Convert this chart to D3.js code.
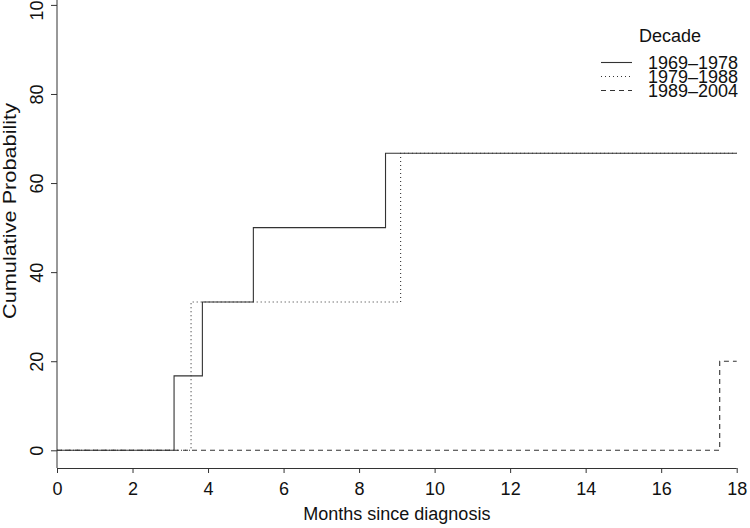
<!DOCTYPE html>
<html>
<head>
<meta charset="utf-8">
<script src="https://cdn.jsdelivr.net/npm/d3@7"></script>
<style>
html,body{margin:0;padding:0;background:#fff;}
svg{display:block;}
text{font-family:"Liberation Sans",Arial,Helvetica,sans-serif;fill:#111;}
</style>
</head>
<body>
<svg id="chart" width="750" height="528"></svg>
<script>
// ---- data ----
const decades = ["1969–1978", "1979–1988", "1989–2004"];
const times1969 = [0, 3.1, 3.85, 5.2, 8.7];
const prob1969  = [0, 16.7, 33.3, 50, 66.7];
const times1979 = [0, 3.55, 9.1];
const prob1979  = [0, 33.3, 66.7];
const times1989 = [0, 17.55];
const prob1989  = [0, 20];
const followUpEnd = 18;
const xTicks = [0, 2, 4, 6, 8, 10, 12, 14, 16, 18];
const yTicks = [0, 20, 40, 60, 80, 100];
const xTitle = "Months since diagnosis";
const yTitle = "Cumulative Probability";
const legendTitle = "Decade";

// ---- layout ----
const svg = d3.select("#chart");
const ink = "#333";
const x = d3.scaleLinear().domain([0, 18]).range([57, 736.7]);
const y = d3.scaleLinear().domain([0, 100]).range([450.3, 4.9]);
const plotBottom = 468;

// spines (bty = "l")
svg.append("line").attr("x1", x(0)).attr("x2", x(0)).attr("y1", 0).attr("y2", plotBottom)
  .attr("stroke", ink).attr("stroke-width", 1);

// x axis
const xAxis = svg.append("g").attr("transform", `translate(0,${plotBottom})`)
  .call(d3.axisBottom(x).tickValues(xTicks).tickSize(5).tickPadding(9).tickFormat(d3.format("d")));
xAxis.select(".domain").attr("d", `M${x(0)},0.5H${x(18)}`).attr("stroke", ink);
xAxis.selectAll(".tick line").attr("stroke", ink);
xAxis.selectAll(".tick text").attr("font-size", 18).attr("fill", "#111")
  .attr("font-family", "Liberation Sans, Arial, sans-serif");

// y axis
const yAxis = svg.append("g").attr("transform", `translate(${x(0)},0)`)
  .call(d3.axisLeft(y).tickValues(yTicks).tickSize(6).tickFormat(d3.format("d")));
yAxis.select(".domain").remove();
yAxis.selectAll(".tick line").attr("stroke", ink);
yAxis.selectAll(".tick text")
  .attr("font-size", 18).attr("fill", "#111")
  .attr("font-family", "Liberation Sans, Arial, sans-serif")
  .attr("x", null).attr("dy", null)
  .attr("text-anchor", "middle")
  .attr("transform", "translate(-14,0) rotate(-90)");

// axis titles
svg.append("text").attr("x", (x(0) + x(18)) / 2).attr("y", 520)
  .attr("text-anchor", "middle").attr("font-size", 18).text(xTitle);
svg.append("text").attr("transform", `translate(16,${211}) rotate(-90)`)
  .attr("text-anchor", "middle").attr("font-size", 19)
  .attr("textLength", 216).attr("lengthAdjust", "spacingAndGlyphs").text(yTitle);

// ---- curves ----
function stepData(times, probs) {
  const pts = times.map((t, i) => [t, probs[i]]);
  pts.push([followUpEnd, probs[probs.length - 1]]);
  return pts;
}
const line = d3.line().x(d => x(d[0])).y(d => y(d[1])).curve(d3.curveStepAfter);
const series = [
  { name: decades[0], pts: stepData(times1969, prob1969), dash: null },
  { name: decades[1], pts: stepData(times1979, prob1979), dash: "1,3" },
  { name: decades[2], pts: stepData(times1989, prob1989), dash: "5,4" }
];
svg.append("g").selectAll("path").data(series).join("path")
  .attr("d", d => line(d.pts))
  .attr("fill", "none").attr("stroke", ink).attr("stroke-width", 1.1)
  .attr("stroke-dasharray", d => d.dash);

// ---- legend ----
svg.append("text").attr("x", 670).attr("y", 42).attr("text-anchor", "middle")
  .attr("font-size", 18).text(legendTitle);
const lg = svg.append("g").selectAll("g").data(series).join("g")
  .attr("transform", (d, i) => `translate(0,${62.5 + i * 14})`);
lg.append("line").attr("x1", 601).attr("x2", 632).attr("y1", 0).attr("y2", 0)
  .attr("stroke", ink).attr("stroke-width", 1.1).attr("stroke-dasharray", d => d.dash);
lg.append("text").attr("x", 648).attr("y", 6.5).attr("font-size", 18).text(d => d.name);
</script>
</body>
</html>
